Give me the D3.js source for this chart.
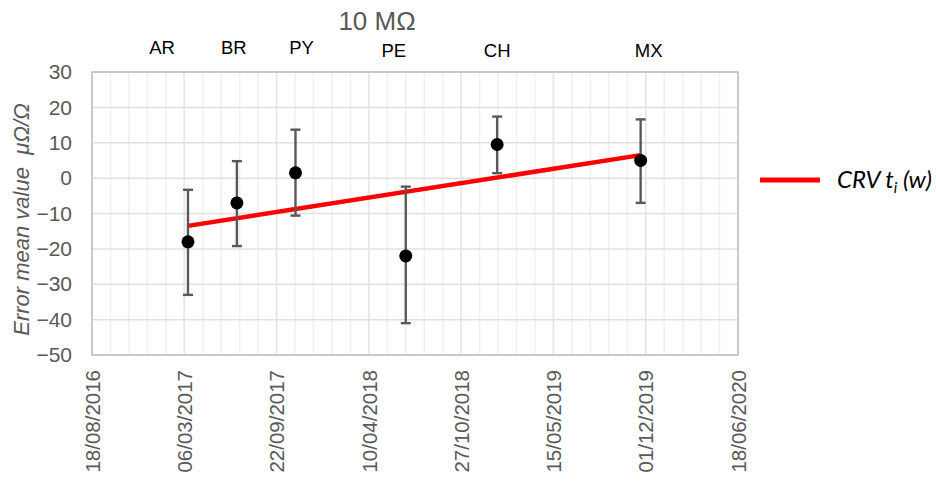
<!DOCTYPE html>
<html>
<head>
<meta charset="utf-8">
<script src="https://cdn.jsdelivr.net/npm/d3@7"></script>
<style>
  body { margin: 0; background: #fff; }
  svg { display: block; font-family: "Liberation Sans", Arial, sans-serif; }
</style>
</head>
<body>
<svg width="936" height="487"></svg>
<script>
'use strict';

// data
const countries = ['AR', 'BR', 'PY', 'PE', 'CH', 'MX'];
const dates = ['14/03/2017', '28/06/2017', '02/11/2017', '29/06/2018', '13/01/2019', '20/11/2019'];
const means = [-18, -7, 1.5, -22, 9.5, 5];
const upper = [-3.3, 4.8, 13.7, -2.4, 17.4, 16.6];
const lower = [-33, -19.2, -10.6, -41, 1.4, -7];
const trendDates = ['14/03/2017', '20/11/2019'];
const trendValues = [-13.5, 6.5];
const xTickLabels = ['18/08/2016', '06/03/2017', '22/09/2017', '10/04/2018',
	'27/10/2018', '15/05/2019', '01/12/2019', '18/06/2020'];
const yTicks = [30, 20, 10, 0, -10, -20, -30, -40, -50];

const parse = d3.utcParse('%d/%m/%Y');
const grey = '#595959';

const margin = {top: 72, left: 92, right: 198, bottom: 132};
const width = 936 - margin.left - margin.right;
const height = 487 - margin.top - margin.bottom;

const svg = d3.select('svg');
const g = svg.append('g')
	.attr('transform', `translate(${margin.left},${margin.top})`);

const xTicks = xTickLabels.map(parse);
const x = d3.scaleUtc()
	.domain([xTicks[0], xTicks[xTicks.length - 1]])
	.range([0, width]);
const y = d3.scaleLinear()
	.domain([-50, 30])
	.range([height, 0]);

// minor vertical grid, every 40 days
const minor = d3.range(0, 1401, 40).map(n => d3.utcDay.offset(xTicks[0], n));
g.append('g').selectAll('line')
	.data(minor)
	.join('line')
	.attr('x1', d => x(d)).attr('x2', d => x(d))
	.attr('y1', 0).attr('y2', height)
	.attr('stroke', '#f0f0f0')
	.attr('stroke-width', 1.5);

g.append('g').selectAll('line')
	.data(xTicks)
	.join('line')
	.attr('x1', d => x(d)).attr('x2', d => x(d))
	.attr('y1', 0).attr('y2', height)
	.attr('stroke', '#e6e6e6')
	.attr('stroke-width', 1.5);

g.append('g').selectAll('line')
	.data(yTicks)
	.join('line')
	.attr('x1', 0).attr('x2', width)
	.attr('y1', d => y(d)).attr('y2', d => y(d))
	.attr('stroke', '#e0e0e0')
	.attr('stroke-width', 1.5);

// plot border
g.append('rect')
	.attr('width', width)
	.attr('height', height)
	.attr('fill', 'none')
	.attr('stroke', '#bfbfbf')
	.attr('stroke-width', 1.5);

// y axis
const yAxis = g.append('g')
	.call(d3.axisLeft(y).tickValues(yTicks).tickSize(0).tickPadding(20));
yAxis.select('.domain').remove();
yAxis.selectAll('text')
	.attr('fill', grey)
	.attr('font-size', 21)
	.attr('font-family', '"Liberation Sans", Arial, sans-serif');

// x axis (rotated labels)
const xAxis = g.append('g')
	.attr('transform', `translate(0,${height})`)
	.call(d3.axisBottom(x).tickValues(xTicks).tickSize(0).tickFormat(d3.utcFormat('%d/%m/%Y')));
xAxis.select('.domain').remove();
xAxis.selectAll('text')
	.attr('fill', grey)
	.attr('font-size', 20.5)
	.attr('font-family', '"Liberation Sans", Arial, sans-serif')
	.attr('text-anchor', 'end')
	.attr('transform', 'rotate(-90)')
	.attr('x', -15)
	.attr('y', 0)
	.attr('dy', '0.35em');

// axis title
svg.append('text')
	.attr('transform', `translate(29,${margin.top + height / 2 + 6}) rotate(-90)`)
	.attr('text-anchor', 'middle')
	.attr('fill', grey)
	.attr('font-size', 22)
	.attr('font-style', 'italic')
	.text('Error mean value\u00a0 μΩ/Ω');

// chart title
svg.append('text')
	.attr('x', 377)
	.attr('y', 30)
	.attr('text-anchor', 'middle')
	.attr('fill', grey)
	.attr('font-size', 26)
	.text('10 MΩ');

const points = countries.map((c, i) => ({
	c, date: parse(dates[i]), mean: means[i], lo: lower[i], hi: upper[i]
}));

// trend line
const trend = trendDates.map((d, i) => [parse(d), trendValues[i]]);
g.append('path')
	.datum(trend)
	.attr('d', d3.line().x(d => x(d[0])).y(d => y(d[1])))
	.attr('stroke', '#ff0000')
	.attr('stroke-width', 4.5)
	.attr('fill', 'none');

// error bars
const bars = g.append('g').selectAll('g')
	.data(points)
	.join('g')
	.attr('stroke', grey)
	.attr('stroke-width', 2.4);
bars.append('line')
	.attr('x1', d => x(d.date)).attr('x2', d => x(d.date))
	.attr('y1', d => y(d.hi)).attr('y2', d => y(d.lo));
bars.append('line')
	.attr('x1', d => x(d.date) - 5).attr('x2', d => x(d.date) + 5)
	.attr('y1', d => y(d.hi)).attr('y2', d => y(d.hi));
bars.append('line')
	.attr('x1', d => x(d.date) - 5).attr('x2', d => x(d.date) + 5)
	.attr('y1', d => y(d.lo)).attr('y2', d => y(d.lo));

g.append('g').selectAll('circle')
	.data(points)
	.join('circle')
	.attr('cx', d => x(d.date))
	.attr('cy', d => y(d.mean))
	.attr('r', 6.5)
	.attr('fill', '#000');

// country labels above the plot (Excel placed them by hand)
const labelDx = [-26, -3, 6, -12, 0, 8];
const labelY = [-18, -18, -18, -15, -15, -15];
g.append('g').selectAll('text')
	.data(points)
	.join('text')
	.attr('x', (d, i) => x(d.date) + labelDx[i])
	.attr('y', (d, i) => labelY[i])
	.attr('text-anchor', 'middle')
	.attr('font-size', 18.5)
	.attr('fill', '#000')
	.text(d => d.c);

// legend
const lg = svg.append('g').attr('transform', 'translate(760,180)');
lg.append('line')
	.attr('x1', 0).attr('x2', 60)
	.attr('stroke', '#ff0000')
	.attr('stroke-width', 5);
const lt = lg.append('text')
	.attr('x', 77)
	.attr('y', 8)
	.attr('font-family', 'Lato, "Open Sans", sans-serif')
	.attr('font-style', 'italic')
	.attr('font-size', 24)
	.attr('fill', '#000');
lt.append('tspan').text('CRV t');
lt.append('tspan').attr('font-size', 15).attr('dy', 5).text('i');
lt.append('tspan').attr('dy', -5).text(' (w)');
</script>
</body>
</html>
